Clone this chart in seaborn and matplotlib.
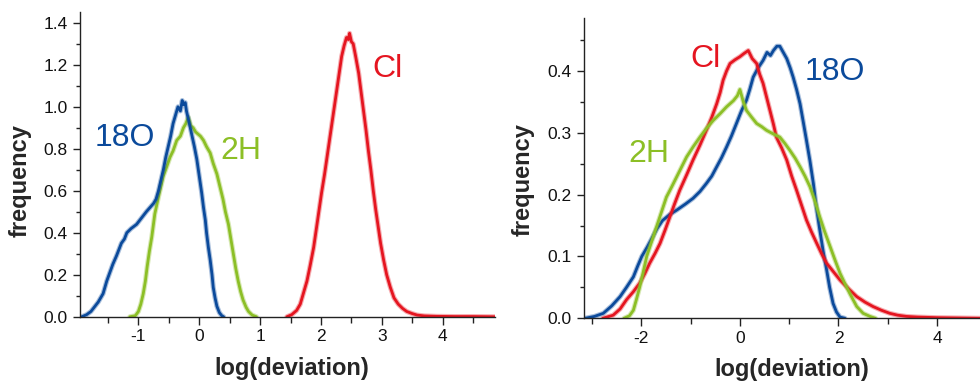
import matplotlib
matplotlib.use("Agg")
import matplotlib.pyplot as plt
import seaborn as sns
import pandas as pd
from matplotlib.ticker import MultipleLocator, FormatStrFormatter

# ---------------- data ----------------
# Left panel
L_18O_x = [-1.93,-1.85,-1.78,-1.74,-1.66,-1.58,-1.52,-1.47,-1.42,-1.36,-1.32,-1.28,-1.23,-1.19,-1.12,-1.03,-0.95,-0.87,-0.81,-0.75,
           -0.71,-0.67,-0.63,-0.59,-0.55,-0.51,-0.47,-0.43,-0.39,-0.35,-0.31,-0.28,-0.26,-0.23,-0.21,-0.17,-0.125,-0.08,-0.04,0.01,
           0.04,0.07,0.10,0.12,0.15,0.18,0.21,0.23,0.26,0.29,0.33,0.37,0.40]
L_18O_y = [0.0,0.01,0.025,0.04,0.07,0.11,0.17,0.21,0.25,0.29,0.32,0.35,0.37,0.40,0.42,0.44,0.47,0.50,0.52,0.54,
           0.56,0.60,0.65,0.70,0.76,0.81,0.86,0.92,0.96,1.00,0.98,1.03,1.01,1.02,0.98,0.93,0.87,0.81,0.75,0.65,
           0.59,0.52,0.46,0.40,0.33,0.27,0.20,0.14,0.09,0.05,0.02,0.005,0.0]
L_2H_x = [-1.14,-1.05,-1.0,-0.96,-0.92,-0.885,-0.855,-0.82,-0.78,-0.73,-0.67,-0.63,-0.59,-0.54,-0.48,-0.43,-0.37,-0.31,-0.26,-0.22,
          -0.18,-0.14,-0.10,-0.06,-0.02,0.02,0.07,0.12,0.18,0.23,0.29,0.34,0.39,0.43,0.48,0.52,0.56,0.60,0.64,0.68,
          0.72,0.77,0.81,0.87,0.94]
L_2H_y = [0.0,0.005,0.025,0.06,0.11,0.17,0.24,0.31,0.38,0.49,0.57,0.62,0.67,0.71,0.76,0.79,0.84,0.86,0.90,0.92,
          0.95,0.91,0.90,0.88,0.87,0.86,0.84,0.81,0.78,0.73,0.68,0.62,0.56,0.50,0.44,0.37,0.30,0.23,0.17,0.12,
          0.08,0.045,0.025,0.008,0.0]
L_Cl_x = [1.44,1.52,1.60,1.66,1.71,1.77,1.82,1.88,1.93,1.97,2.01,2.06,2.10,2.14,2.18,2.22,2.26,2.30,2.34,2.38,
          2.42,2.45,2.47,2.50,2.53,2.57,2.62,2.66,2.70,2.74,2.78,2.82,2.86,2.90,2.94,2.98,3.03,3.08,3.14,3.20,
          3.27,3.34,3.41,3.50,3.58,3.70,3.90,4.2,4.5,4.86]
L_Cl_y = [0.0,0.01,0.03,0.06,0.11,0.17,0.24,0.33,0.43,0.51,0.59,0.68,0.76,0.84,0.92,1.00,1.08,1.16,1.24,1.29,
          1.33,1.32,1.35,1.31,1.30,1.24,1.16,1.07,0.98,0.89,0.79,0.70,0.60,0.51,0.43,0.35,0.27,0.20,0.14,0.09,
          0.06,0.04,0.025,0.015,0.008,0.004,0.002,0.001,0.001,0.0]

# Right panel
R_18O_x = [-3.14,-2.95,-2.77,-2.6,-2.43,-2.3,-2.16,-2.07,-1.99,-1.88,-1.78,-1.68,-1.57,-1.42,-1.28,-1.1,-0.95,-0.81,-0.68,-0.57,
           -0.47,-0.37,-0.27,-0.17,-0.07,0.03,0.135,0.2,0.27,0.37,0.47,0.55,0.62,0.68,0.75,0.81,0.88,0.95,1.02,1.08,
           1.15,1.22,1.28,1.35,1.42,1.49,1.55,1.62,1.69,1.76,1.82,1.89,1.96,2.03,2.13]
R_18O_y = [0.0,0.003,0.008,0.02,0.035,0.05,0.067,0.085,0.10,0.115,0.13,0.145,0.158,0.168,0.175,0.185,0.194,0.205,0.218,0.23,
           0.245,0.26,0.277,0.295,0.315,0.335,0.353,0.37,0.39,0.405,0.417,0.43,0.425,0.433,0.44,0.44,0.43,0.42,0.405,0.39,
           0.37,0.347,0.32,0.288,0.255,0.218,0.18,0.143,0.108,0.078,0.05,0.024,0.01,0.002,0.0]
R_Cl_x = [-2.78,-2.57,-2.43,-2.3,-2.16,-2.03,-1.93,-1.83,-1.72,-1.62,-1.52,-1.42,-1.32,-1.22,-1.08,-0.95,-0.81,-0.68,-0.57,-0.47,
          -0.40,-0.34,-0.27,-0.20,-0.1,0.0,0.08,0.17,0.25,0.34,0.40,0.47,0.54,0.61,0.68,0.74,0.85,0.95,1.05,1.15,
          1.25,1.35,1.45,1.56,1.66,1.76,1.9,2.03,2.2,2.37,2.54,2.70,2.87,3.04,3.2,3.38,3.6,4.0,4.87]
R_Cl_y = [0.0,0.005,0.015,0.03,0.043,0.057,0.072,0.089,0.105,0.121,0.142,0.164,0.186,0.207,0.232,0.256,0.28,0.304,0.325,0.347,
          0.365,0.385,0.40,0.412,0.418,0.423,0.428,0.433,0.42,0.412,0.395,0.38,0.358,0.336,0.314,0.293,0.275,0.256,0.23,0.207,
          0.183,0.159,0.14,0.121,0.104,0.089,0.075,0.062,0.048,0.035,0.026,0.019,0.013,0.008,0.005,0.003,0.002,0.001,0.0]
R_2H_x = [-2.35,-2.24,-2.16,-2.1,-2.03,-1.96,-1.89,-1.79,-1.69,-1.59,-1.49,-1.38,-1.28,-1.18,-1.08,-0.95,-0.81,-0.68,-0.54,-0.4,
          -0.27,-0.13,-0.05,0.0,0.07,0.135,0.24,0.34,0.44,0.54,0.68,0.81,0.91,1.01,1.12,1.22,1.32,1.42,1.52,1.62,
          1.72,1.83,1.93,2.03,2.13,2.23,2.37,2.5,2.64,2.75]
R_2H_y = [0.0,0.004,0.013,0.03,0.051,0.075,0.10,0.124,0.148,0.172,0.196,0.213,0.229,0.245,0.261,0.277,0.293,0.307,0.32,0.331,
          0.342,0.352,0.36,0.37,0.35,0.336,0.325,0.315,0.31,0.304,0.298,0.293,0.283,0.272,0.259,0.245,0.23,0.213,0.19,0.164,
          0.14,0.116,0.094,0.073,0.056,0.040,0.019,0.008,0.003,0.0]

COL = {"18O": "#0b4a9b", "2H": "#8cbf26", "Cl": "#e51520"}

# ---------------- figure ----------------
sns.set_theme(style="ticks")
plt.rcParams["font.family"] = ["Liberation Sans", "DejaVu Sans"]
plt.rcParams["axes.linewidth"] = 1.0
plt.rcParams["axes.unicode_minus"] = False

fig = plt.figure(figsize=(9.8, 3.83), dpi=100)
axL = fig.add_axes([0.0816, 0.173, 0.4235, 0.796])
axR = fig.add_axes([0.596, 0.169, 0.404, 0.783])

def draw(ax, series):
    for name, xs, ys in series:
        df = pd.DataFrame({"x": xs, "y": ys})
        # soft halo to mimic the fuzzy (noisy) histogram band of the original
        sns.lineplot(data=df, x="x", y="y", ax=ax, color=COL[name], lw=3.6, alpha=0.35,
                     sort=False, estimator=None, legend=False)
        sns.lineplot(data=df, x="x", y="y", ax=ax, color=COL[name], lw=2.0,
                     sort=False, estimator=None, legend=False)

draw(axL, [("2H", L_2H_x, L_2H_y), ("18O", L_18O_x, L_18O_y), ("Cl", L_Cl_x, L_Cl_y)])
draw(axR, [("18O", R_18O_x, R_18O_y), ("Cl", R_Cl_x, R_Cl_y), ("2H", R_2H_x, R_2H_y)])

axL.set_xlim(-1.96, 4.86)
axL.set_ylim(0, 1.452)
axL.set_xticks([-1, 0, 1, 2, 3, 4])
axL.xaxis.set_minor_locator(MultipleLocator(0.5))
axL.set_yticks([0.0, 0.2, 0.4, 0.6, 0.8, 1.0, 1.2, 1.4])
axL.yaxis.set_minor_locator(MultipleLocator(0.1))
axL.yaxis.set_major_formatter(FormatStrFormatter("%.1f"))
axL.xaxis.set_major_formatter(FormatStrFormatter("%d"))

axR.set_xlim(-3.16, 4.87)
axR.set_ylim(0, 0.485)
axR.set_xticks([-2, 0, 2, 4])
axR.xaxis.set_minor_locator(MultipleLocator(1))
axR.set_yticks([0.0, 0.1, 0.2, 0.3, 0.4])
axR.yaxis.set_minor_locator(MultipleLocator(0.05))
axR.yaxis.set_major_formatter(FormatStrFormatter("%.1f"))
axR.xaxis.set_major_formatter(FormatStrFormatter("%d"))

for ax in (axL, axR):
    sns.despine(ax=ax)
    ax.tick_params(axis="x", which="major", direction="out", length=6, width=1, pad=3)
    ax.tick_params(axis="x", which="minor", direction="out", length=4, width=1)
    ax.tick_params(axis="y", which="major", direction="out", length=5, width=1, pad=4)
    ax.tick_params(axis="y", which="minor", direction="out", length=3, width=1)
    ax.tick_params(which="both", color="#222222", labelsize=12.5, labelcolor="#111111")
    ax.set_xlabel("log(deviation)", fontsize=17, fontweight="bold")
    ax.set_ylabel("frequency", fontsize=17, fontweight="bold")
    ax.xaxis.label.set_va("center")
    ax.yaxis.label.set_va("center")
    for s in ax.spines.values():
        s.set_color("#222222")

axL.xaxis.set_label_coords(0.51, -0.169)
axL.yaxis.set_label_coords(-0.144, 0.448)
axR.xaxis.set_label_coords(0.524, -0.172)
axR.yaxis.set_label_coords(-0.154, 0.461)

# series labels
axL.text(-1.72, 0.85, "18O", color=COL["18O"], fontsize=23, ha="left", va="center")
axL.text(0.34, 0.79, "2H", color=COL["2H"], fontsize=23, ha="left", va="center")
axL.text(2.84, 1.18, "Cl", color=COL["Cl"], fontsize=23, ha="left", va="center")
axR.text(-1.01, 0.42, "Cl", color=COL["Cl"], fontsize=23, ha="left", va="center")
axR.text(1.32, 0.398, "18O", color=COL["18O"], fontsize=23, ha="left", va="center")
axR.text(-2.27, 0.265, "2H", color=COL["2H"], fontsize=23, ha="left", va="center")

fig.savefig("out.png", dpi=100)
